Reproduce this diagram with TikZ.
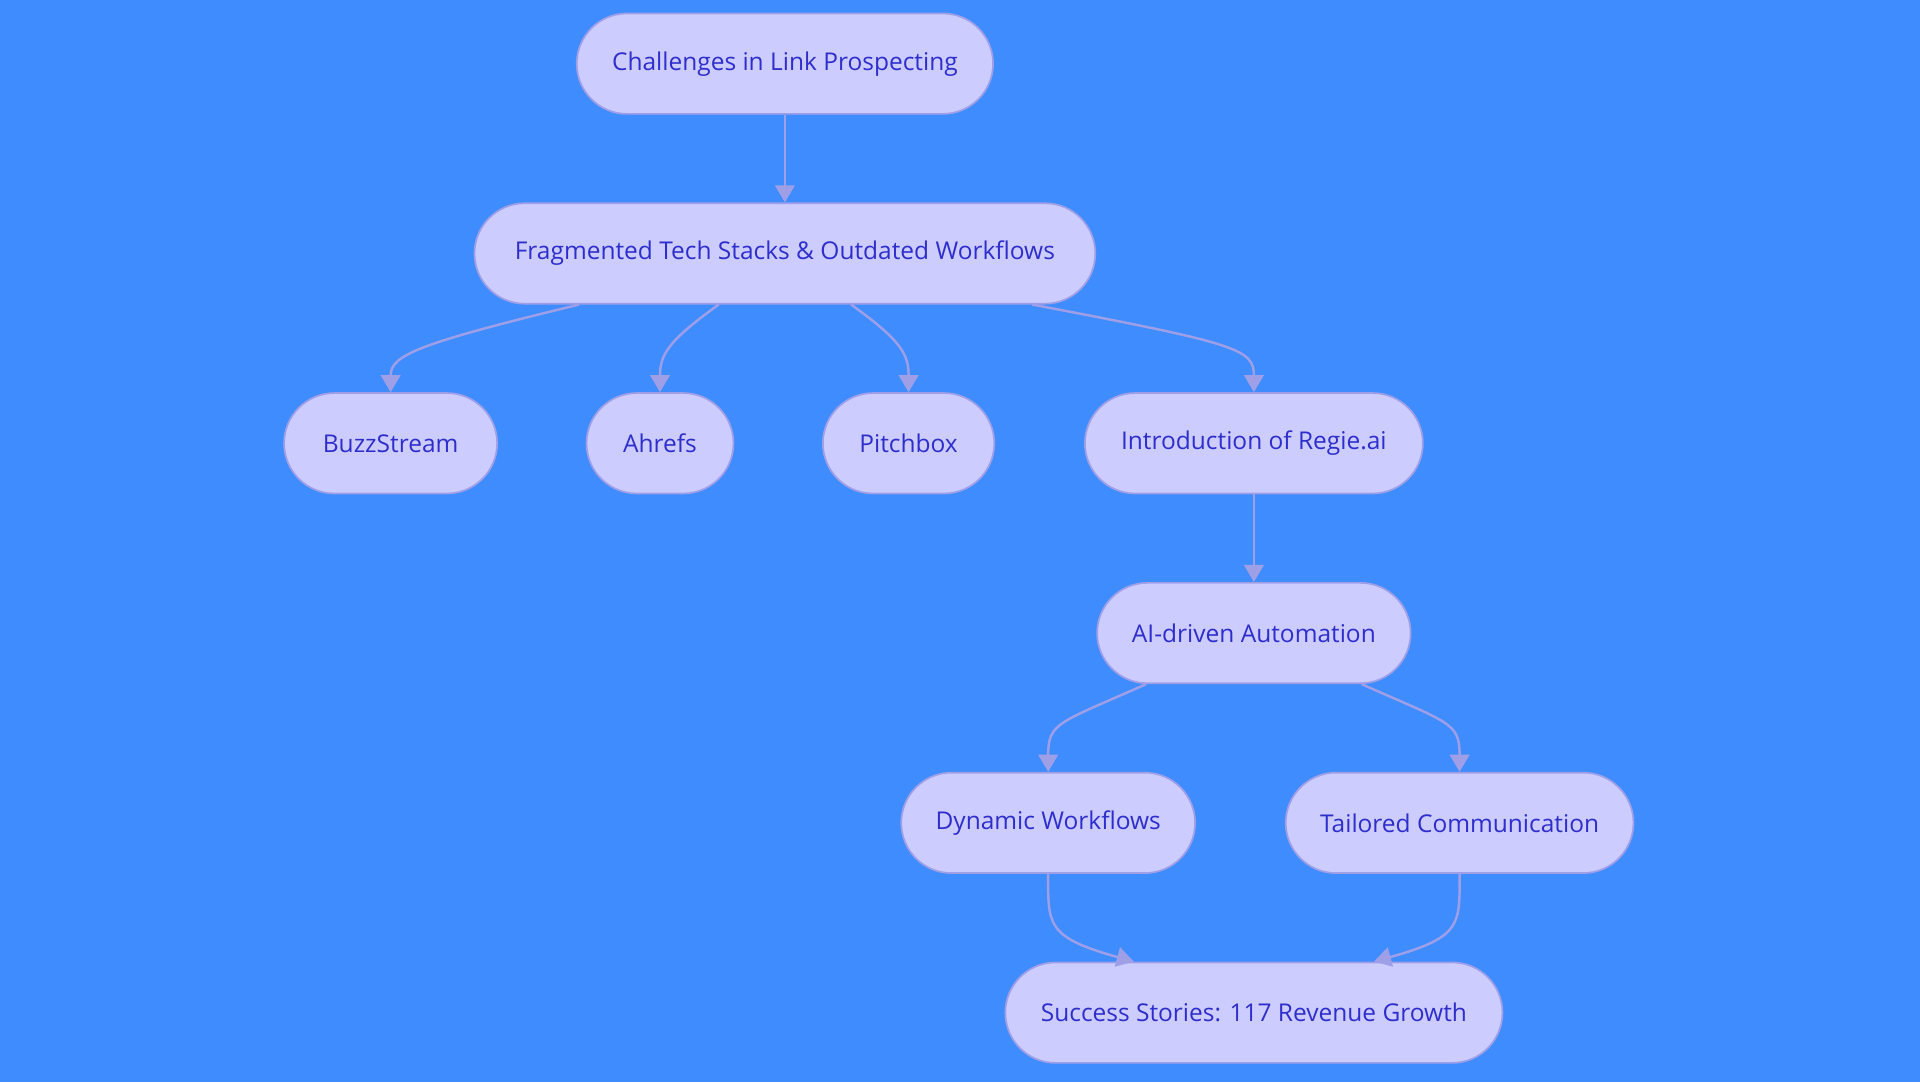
\documentclass[tikz,border=0pt]{standalone}
\usepackage{fontspec}
\setmainfont{Open Sans}
\usetikzlibrary{arrows.meta,calc}
\definecolor{bg}{HTML}{3F8CFF}
\definecolor{nf}{HTML}{CCCCFF}
\definecolor{nd}{HTML}{9F9FE8}
\definecolor{tx}{HTML}{2E2ECC}
\begin{document}
\begin{tikzpicture}[x=0.5pt,y=-0.5pt,
  box/.style={draw=nd,line width=0.7pt,fill=nf,rounded corners=20.5pt,minimum height=41pt,inner sep=0pt,text=tx,font=\fontsize{10}{12}\selectfont},
  arr/.style={draw=nd,line width=1pt,-{Triangle[length=7pt,width=8pt]}}]
\fill[bg] (0,0) rectangle (1568,884);
\useasboundingbox (0,0) rectangle (1568,884);
\node[box,minimum width=170pt] (ch) at (641,52) {Challenges in Link Prospecting};
\node[box,minimum width=253.5pt] (fr) at (641,207) {Fragmented Tech Stacks \& Outdated Workflows};
\node[box,minimum width=87pt] (bz) at (319,362) {BuzzStream};
\node[box,minimum width=60pt] (ah) at (539,362) {Ahrefs};
\node[box,minimum width=70pt] (pb) at (742,362) {Pitchbox};
\node[box,minimum width=138pt] (rg) at (1024,362) {Introduction of Regie.ai};
\node[box,minimum width=128pt] (ai) at (1024,517) {AI-driven Automation};
\node[box,minimum width=120pt] (dw) at (856,672) {Dynamic Workflows};
\node[box,minimum width=142pt] (tc) at (1192,672) {Tailored Communication};
\node[box,minimum width=203pt] (ss) at (1024,827) {Success Stories: 117 Revenue Growth};
\draw[arr] (ch) -- (fr);
\draw[arr] ($(fr.south)+(-168,0)$) .. controls ($(fr.south)+(-300,32)$) and (bz.north |- 0,290) .. (bz.north);
\draw[arr] ($(fr.south)+(-54,0)$) .. controls ($(fr.south)+(-96,30)$) and (ah.north |- 0,290) .. (ah.north);
\draw[arr] ($(fr.south)+(54,0)$) .. controls ($(fr.south)+(96,30)$) and (pb.north |- 0,290) .. (pb.north);
\draw[arr] ($(fr.south)+(202,0)$) .. controls ($(fr.south)+(370,32)$) and (rg.north |- 0,285) .. (rg.north);
\draw[arr] (rg) -- (ai);
\draw[arr] ($(ai.south)+(-88,0)$) .. controls ($(ai.south)+(-160,32)$) and (dw.north |- 0,590) .. (dw.north);
\draw[arr] ($(ai.south)+(88,0)$) .. controls ($(ai.south)+(160,32)$) and (tc.north |- 0,590) .. (tc.north);
\draw[arr] (dw.south) .. controls (dw.south |- 0,755) and ($(ss.north)+(-170,-20)$) .. ($(ss.north)+(-98,0)$);
\draw[arr] (tc.south) .. controls (tc.south |- 0,755) and ($(ss.north)+(170,-20)$) .. ($(ss.north)+(98,0)$);
\end{tikzpicture}
\end{document}
